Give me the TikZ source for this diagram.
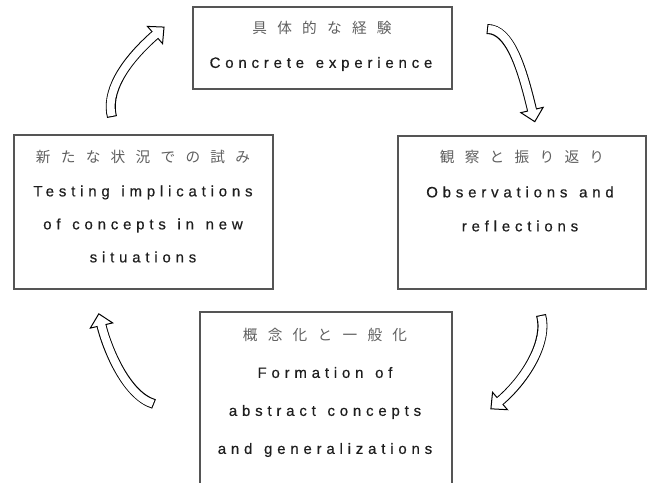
\documentclass[tikz,border=0pt]{standalone}
\usepackage{fontspec}
\newfontfamily\enfont[LetterSpace=32,WordSpace=1.3,FakeBold=0.5]{Liberation Sans}
\newfontfamily\jpfont[LetterSpace=70]{Noto Sans CJK JP}
\usetikzlibrary{calc}
\definecolor{boxgray}{RGB}{85,85,85}
\definecolor{jpgray}{RGB}{95,95,95}
\definecolor{enblack}{RGB}{30,30,30}

\begin{document}
\begin{tikzpicture}[x=0.75pt,y=0.75pt,yscale=-1,xscale=1,
	box/.style={draw=boxgray, line width=0.8pt, inner sep=0pt},
	jptext/.style={text=jpgray, inner sep=0pt, font=\jpfont\fontsize{11}{13}\selectfont},
	entext/.style={text=enblack, align=center, inner sep=0pt},
	outer/.style={line width=7.5pt},
	inner/.style={white, line width=6pt, shorten <=0.8pt, shorten >=-1pt},
	head/.style={fill=white, draw=black, line width=0.75pt, line join=miter}]
	\useasboundingbox (0,0) rectangle (649,482);
	\clip (0,0) rectangle (649,482);
	
	%Boxes
	\node [box, minimum width=259*0.75pt, minimum height=82*0.75pt] (exper) at (322.5,48) {};
	\node [box, minimum width=248*0.75pt, minimum height=153*0.75pt] (reflect) at (522,212.5) {};
	\node [box, minimum width=252*0.75pt, minimum height=188*0.75pt] (concept) at (326,406) {};
	\node [box, minimum width=259*0.75pt, minimum height=154*0.75pt] (testing) at (143.5,212) {};
	
	% Text Node
	\node [jptext] (experjp) at (322,28) {具体的な経験};
	\node [entext, font=\enfont\fontsize{11.25}{27}\selectfont] (experen) at (321,64) {Concrete experience};
	% Text Node
	\node [jptext] (reflectjp) at (522,157) {観察と振り返り};
	\node [entext, font=\enfont\fontsize{11.25}{25.5}\selectfont] (reflecten) at (520,209) {Observations and\\reflections};
	% Text Node
	\node [jptext] (conceptjp) at (325,335) {概念化と一般化};
	\node [entext, font=\enfont\fontsize{11.25}{28.5}\selectfont] (concepten) at (325,412) {Formation of\\abstract concepts\\and generalizations};
	% Text Node
	\node [jptext] (testingjp) at (143,157) {新たな状況での試み};
	\node [entext, font=\enfont\fontsize{11.25}{24.75}\selectfont] (testingen) at (143,224) {Testing implications\\of concepts in new\\situations};
	
	%Curved arrows: tail, two controls, base of head
	\coordinate (t1) at (112,117); \coordinate (ca1) at (106,93); \coordinate (cb1) at (122,64); \coordinate (b1) at (155,35);
	\coordinate (t2) at (487,29); \coordinate (ca2) at (510,29); \coordinate (cb2) at (522,68); \coordinate (b2) at (532,110);
	\coordinate (t3) at (541,315); \coordinate (ca3) at (548,340); \coordinate (cb3) at (528,377); \coordinate (b3) at (500,401);
	\coordinate (t4) at (154,404); \coordinate (ca4) at (125,395); \coordinate (cb4) at (106,345); \coordinate (b4) at (101.5,325.5);
	
	%testing -> exper
	\draw [outer] (t1) .. controls (ca1) and (cb1) .. (b1);
	\draw [head] ($(b1)!8.6pt!90:(cb1)$) -- ($(b1)!-9pt!(cb1)$) -- ($(b1)!8.6pt!-90:(cb1)$) -- cycle;
	\draw [inner] (t1) .. controls (ca1) and (cb1) .. (b1);
	%exper -> reflect
	\draw [outer] (t2) .. controls (ca2) and (cb2) .. (b2);
	\draw [head] ($(b2)!8.6pt!90:(cb2)$) -- ($(b2)!-9pt!(cb2)$) -- ($(b2)!8.6pt!-90:(cb2)$) -- cycle;
	\draw [inner] (t2) .. controls (ca2) and (cb2) .. (b2);
	%reflect -> concept
	\draw [outer] (t3) .. controls (ca3) and (cb3) .. (b3);
	\draw [head] ($(b3)!8.6pt!90:(cb3)$) -- ($(b3)!-9pt!(cb3)$) -- ($(b3)!8.6pt!-90:(cb3)$) -- cycle;
	\draw [inner] (t3) .. controls (ca3) and (cb3) .. (b3);
	%concept -> testing
	\draw [outer] (t4) .. controls (ca4) and (cb4) .. (b4);
	\draw [head] ($(b4)!8.6pt!90:(cb4)$) -- ($(b4)!-9pt!(cb4)$) -- ($(b4)!8.6pt!-90:(cb4)$) -- cycle;
	\draw [inner] (t4) .. controls (ca4) and (cb4) .. (b4);
	
\end{tikzpicture}
\end{document}
